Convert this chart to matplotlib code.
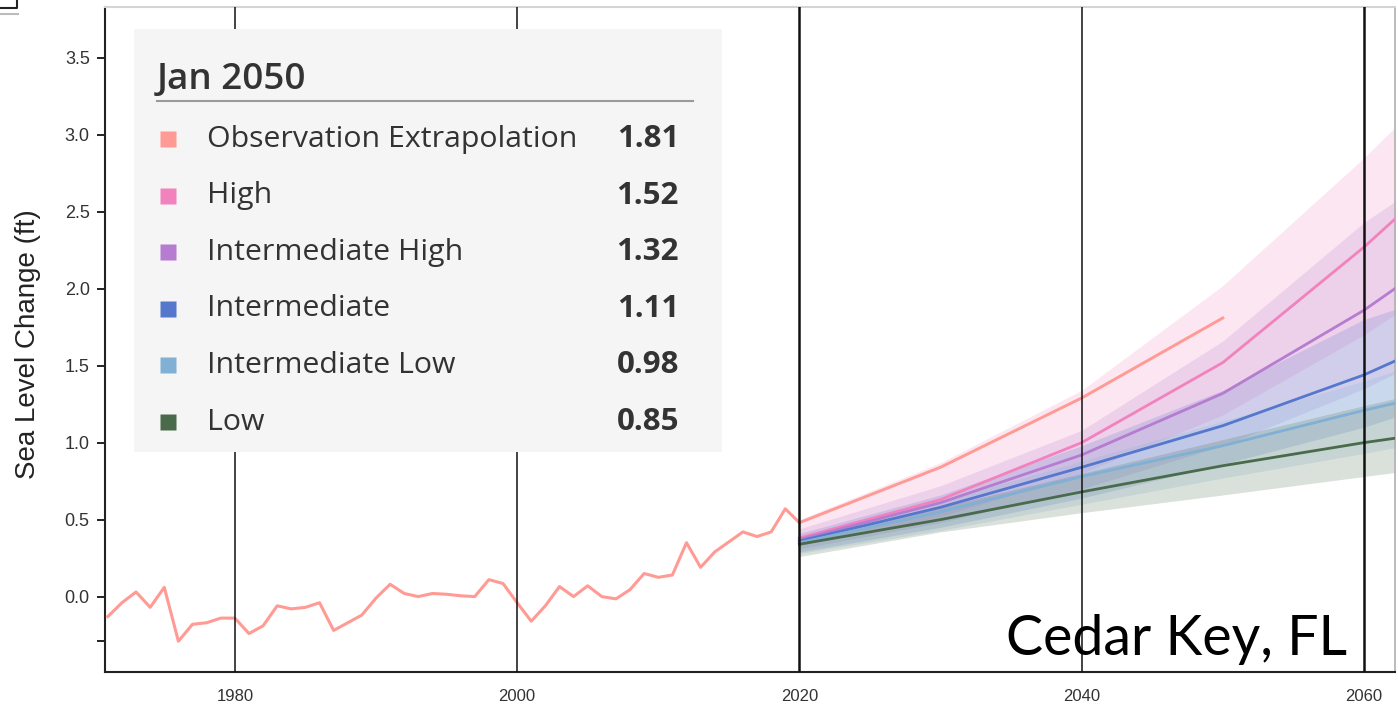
import numpy as np
import matplotlib.pyplot as plt
from matplotlib.patches import Rectangle
from matplotlib.lines import Line2D

# observed annual sea level (ft)
obs_years = list(range(1971, 2021))
obs_values = [-0.13, -0.04, 0.03, -0.07, 0.06, -0.29, -0.18, -0.17, -0.14, -0.14,
              -0.24, -0.19, -0.06, -0.08, -0.07, -0.04, -0.22, -0.17, -0.12, -0.01,
              0.08, 0.02, 0.00, 0.02, 0.015, 0.005, 0.00, 0.11, 0.085, -0.04,
              -0.16, -0.06, 0.065, 0.00, 0.07, 0.00, -0.015, 0.045, 0.15, 0.125,
              0.14, 0.35, 0.19, 0.29, 0.355, 0.42, 0.39, 0.42, 0.57, 0.48]

proj_years = [2020, 2030, 2040, 2050, 2060, 2070]
extrap_years = [2020, 2030, 2040, 2050]
extrap_values = [0.48, 0.84, 1.29, 1.81]

scenario_names = ['High', 'Intermediate High', 'Intermediate', 'Intermediate Low', 'Low']
scenario_mid = [
    [0.38, 0.63, 1.00, 1.52, 2.27, 3.10],
    [0.37, 0.61, 0.92, 1.32, 1.86, 2.50],
    [0.36, 0.58, 0.84, 1.11, 1.44, 1.85],
    [0.35, 0.55, 0.78, 0.98, 1.21, 1.42],
    [0.34, 0.50, 0.68, 0.85, 1.00, 1.13],
]
scenario_lo = [
    [0.33, 0.52, 0.80, 1.18, 1.70, 2.30],
    [0.31, 0.48, 0.70, 0.98, 1.35, 1.80],
    [0.29, 0.45, 0.64, 0.86, 1.10, 1.40],
    [0.28, 0.43, 0.60, 0.77, 0.93, 1.10],
    [0.26, 0.42, 0.545, 0.66, 0.78, 0.90],
]
scenario_hi = [
    [0.50, 0.87, 1.34, 2.02, 2.85, 3.75],
    [0.44, 0.72, 1.08, 1.66, 2.43, 3.05],
    [0.41, 0.66, 0.98, 1.34, 1.80, 2.10],
    [0.39, 0.62, 0.88, 1.14, 1.40, 1.70],
    [0.38, 0.58, 0.80, 1.02, 1.24, 1.45],
]
scenario_colors = ['#f282bd', '#b57cd0', '#5577cc', '#80b0d4', '#4a6b4b']
extrap_color = '#ff9a94'

legend_labels = ['Observation Extrapolation'] + scenario_names
legend_values = ['1.81', '1.52', '1.32', '1.11', '0.98', '0.85']
legend_colors = [extrap_color] + scenario_colors

year_ticks = [1980, 2000, 2020, 2040, 2060]
year_line_widths = [1.1, 1.1, 1.8, 1.1, 1.8]
y_ticks = [0.0, 0.5, 1.0, 1.5, 2.0, 2.5, 3.0, 3.5]

W, H = 1398, 706
fig = plt.figure(figsize=(W / 100, H / 100), dpi=100)
ax = fig.add_axes([105 / W, 1 - 672 / H, 1290 / W, 665 / H])

# uncertainty bands then median lines
for lo, hi, c in zip(scenario_lo, scenario_hi, scenario_colors):
    ax.fill_between(proj_years, lo, hi, color=c, alpha=0.2, lw=0, zorder=1)
for mid, c in zip(scenario_mid, scenario_colors):
    ax.plot(proj_years, mid, color=c, lw=2.0, zorder=3)
ax.plot(extrap_years, extrap_values, color=extrap_color, lw=2.1, zorder=3)
ax.plot(obs_years, obs_values, color=extrap_color, lw=2.2, zorder=3)

for yr, lw in zip(year_ticks, year_line_widths):
    ax.axvline(yr, color='#111111', lw=lw, zorder=4)

ax.set_xlim(1970.8, 2062.2)
ax.set_ylim(-0.49, 3.83)
ax.set_xticks(year_ticks)
ax.set_yticks(y_ticks + [-0.29])
ax.set_yticklabels([f'{v:.1f}' for v in y_ticks] + [''])
ax.tick_params(axis='x', length=0, pad=12, labelsize=12, labelcolor='#333333')
ax.tick_params(axis='y', length=6, width=1.4, pad=5, labelsize=13,
               labelcolor='#333333', color='#222222')
for lab in ax.get_xticklabels() + ax.get_yticklabels():
    lab.set_family('Liberation Sans')

for s in ['left', 'bottom']:
    ax.spines[s].set_linewidth(1.5)
    ax.spines[s].set_color('#222222')
ax.spines['top'].set_color('#d4d4d4')
ax.spines['top'].set_linewidth(1.5)
ax.spines['right'].set_color('#b0b0b0')
ax.spines['right'].set_linewidth(1.2)

fig.text(28 / W, 1 - 344 / H, 'Sea Level Change (ft)', rotation=90,
         ha='center', va='center', fontsize=20, family='Liberation Sans',
         color='#222222')

# legend panel (axes fraction coords)
def ax_x(px):
    return (px - 105) / 1290


def ax_y(py):
    return (672 - py) / 665


ax.add_patch(Rectangle((ax_x(134), ax_y(452)), ax_x(722) - ax_x(134),
                       ax_y(29) - ax_y(452), transform=ax.transAxes,
                       facecolor='#f5f5f5', edgecolor='none', zorder=5))
ax.text(ax_x(157), ax_y(89), 'Jan 2050', transform=ax.transAxes,
        fontsize=26.5, family='Open Sans', weight='semibold', color='#333333',
        ha='left', va='baseline', zorder=6)
ax.add_line(Line2D([ax_x(157), ax_x(693)], [ax_y(101), ax_y(101)],
                   transform=ax.transAxes, color='#9a9a9a', lw=1.5, zorder=6))
for i, (lab, val, c) in enumerate(zip(legend_labels, legend_values, legend_colors)):
    yy = ax_y(139 + i * 56.6)
    ax.plot([ax_x(167.5)], [yy], marker='s', ms=11, color=c, mec='none',
            transform=ax.transAxes, zorder=6, clip_on=False)
    ax.text(ax_x(207), yy, lab, transform=ax.transAxes, fontsize=21.8,
            family='Open Sans', color='#333333', ha='left', va='center', zorder=6)
    ax.text(ax_x(679), yy, val, transform=ax.transAxes, fontsize=22.5,
            family='Open Sans', weight='bold', color='#333333', ha='right',
            va='center', zorder=6)

ax.text(ax_x(1347), ax_y(655), 'Cedar Key, FL', transform=ax.transAxes,
        fontsize=40, family='Lato', color='black', ha='right', va='baseline',
        zorder=6)

# corner fragment of the screenshot frame
fig.add_artist(Line2D([0, 17 / W, 17 / W], [1 - 8 / H, 1 - 8 / H, 1],
                      color='#222222', lw=1.5))
fig.add_artist(Line2D([0, 18 / W], [1 - 14 / H, 1 - 14 / H], color='#bbbbbb', lw=1.5))

fig.savefig('out.png', dpi=100)
